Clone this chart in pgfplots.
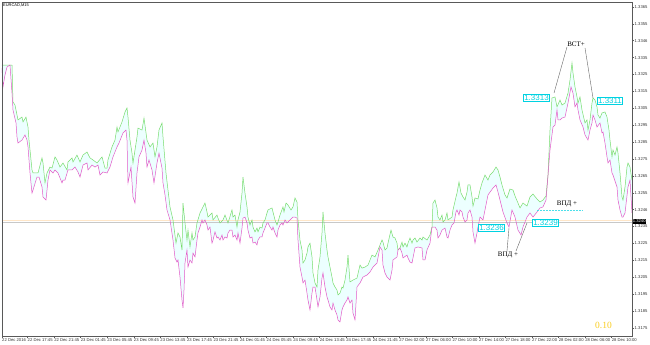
\documentclass[border=0pt]{standalone}
\usepackage{fontspec}
\setmainfont{Liberation Serif}
\newfontfamily\axfont{Liberation Sans}
\usepackage{pgfplots}
\pgfplotsset{compat=1.18}
\usepackage{pgfplotstable}
\definecolor{gline}{RGB}{120,220,110}
\definecolor{pline}{RGB}{225,90,200}
\definecolor{sfill}{RGB}{236,255,255}
\definecolor{lbl}{RGB}{0,210,225}
\definecolor{goldc}{RGB}{250,205,30}
\definecolor{askc}{RGB}{255,230,200}
\definecolor{bidc}{RGB}{200,200,200}

\pgfplotstableread{
x y
2 1.33306
6 1.33306
12 1.33306
13 1.33087
15 1.33069
18 1.32981
22 1.32998
23 1.32969
26 1.32998
28 1.32939
29 1.32862
32 1.32685
33 1.32667
38 1.32667
42 1.32756
43 1.32726
45 1.32608
47 1.32667
50 1.32702
52 1.32696
55 1.32762
57 1.32744
60 1.32702
63 1.32726
67 1.32685
68 1.32732
72 1.32756
73 1.32732
77 1.32773
80 1.32732
83 1.32773
87 1.32791
90 1.32756
93 1.32744
97 1.32726
102 1.32762
105 1.32696
107 1.32696
108 1.32744
112 1.32821
115 1.32862
117 1.32939
118 1.32910
122 1.32969
125 1.33028
127 1.33052
128 1.32998
130 1.32862
132 1.32785
133 1.32726
135 1.32803
137 1.32880
138 1.32933
142 1.32921
144 1.32992
147 1.32862
150 1.32821
153 1.32844
155 1.32762
157 1.32821
159 1.32921
162 1.32963
163 1.32880
166 1.32667
168 1.32566
170 1.32466
173 1.32389
176 1.32252
178 1.32312
180 1.32288
182 1.32211
183 1.32489
185 1.32371
187 1.32270
188 1.32329
190 1.32229
192 1.32312
193 1.32270
195 1.32288
197 1.32371
200 1.32430
203 1.32466
205 1.32489
207 1.32436
208 1.32406
212 1.32430
213 1.32389
217 1.32418
218 1.32400
220 1.32371
223 1.32389
225 1.32418
228 1.32371
232 1.32448
233 1.32406
235 1.32418
237 1.32347
238 1.32389
240 1.32436
242 1.32548
243 1.32643
245 1.32548
247 1.32466
248 1.32406
250 1.32359
252 1.32389
253 1.32347
255 1.32318
257 1.32341
258 1.32318
260 1.32347
262 1.32341
263 1.32371
265 1.32389
267 1.32430
268 1.32448
272 1.32460
273 1.32436
275 1.32389
277 1.32359
278 1.32377
280 1.32418
283 1.32466
284 1.32436
286 1.32489
288 1.32477
291 1.32448
293 1.32466
295 1.32519
297 1.32495
298 1.32389
300 1.32270
302 1.32211
303 1.32134
305 1.32152
307 1.32193
308 1.32229
310 1.32252
312 1.32170
313 1.32075
315 1.32016
317 1.31992
318 1.32092
320 1.32170
322 1.32312
323 1.32436
325 1.32312
327 1.32211
328 1.32170
330 1.32110
332 1.32051
333 1.32016
335 1.31992
337 1.31974
338 1.31945
340 1.31956
342 1.31992
343 1.31986
345 1.32033
347 1.32110
348 1.32181
350 1.32022
353 1.32033
357 1.32045
360 1.32122
362 1.32104
365 1.32110
368 1.32122
372 1.32181
375 1.32170
378 1.32211
382 1.32270
383 1.32258
385 1.32211
387 1.32223
388 1.32252
391 1.32329
393 1.32288
395 1.32282
397 1.32252
398 1.32211
400 1.32223
402 1.32258
403 1.32229
405 1.32252
407 1.32229
408 1.32252
410 1.32282
412 1.32252
413 1.32270
415 1.32282
417 1.32258
420 1.32282
422 1.32270
423 1.32288
427 1.32270
430 1.32300
432 1.32347
433 1.32489
435 1.32507
437 1.32460
438 1.32406
440 1.32389
442 1.32418
443 1.32377
445 1.32389
447 1.32430
448 1.32389
452 1.32406
453 1.32448
456 1.32525
457 1.32548
459 1.32614
461 1.32548
463 1.32525
465 1.32507
467 1.32554
468 1.32596
470 1.32596
472 1.32525
473 1.32471
475 1.32519
478 1.32513
480 1.32566
482 1.32608
485 1.32655
488 1.32625
490 1.32655
493 1.32673
496 1.32702
498 1.32685
500 1.32643
502 1.32596
505 1.32537
507 1.32519
510 1.32572
513 1.32566
515 1.32531
518 1.32489
520 1.32460
523 1.32489
527 1.32471
530 1.32525
533 1.32542
537 1.32513
540 1.32495
543 1.32507
546 1.32531
548 1.32655
550 1.32921
552 1.33111
555 1.33117
557 1.33058
560 1.33099
562 1.33069
565 1.33081
568 1.33140
570 1.33217
572 1.33318
573 1.33259
575 1.33176
577 1.33117
578 1.33081
580 1.33117
582 1.33040
585 1.32963
587 1.32981
588 1.32921
590 1.32981
592 1.33081
593 1.33111
595 1.33099
597 1.33058
598 1.33010
600 1.32992
602 1.33022
605 1.33028
607 1.32998
609 1.32921
610 1.32862
612 1.32762
613 1.32803
615 1.32773
617 1.32821
618 1.32785
620 1.32667
622 1.32525
623 1.32507
625 1.32584
627 1.32702
628 1.32726
630 1.32702
632 1.32625
}\greentab

\pgfplotstableread{
x y
2 1.33288
3 1.33176
5 1.33247
7 1.33294
10 1.33306
12 1.33140
13 1.33040
16 1.32963
17 1.32880
18 1.32844
22 1.32862
25 1.32892
27 1.32862
28 1.32821
30 1.32667
32 1.32548
33 1.32566
37 1.32643
39 1.32643
42 1.32584
43 1.32525
46 1.32507
48 1.32625
50 1.32685
53 1.32667
55 1.32685
58 1.32667
62 1.32608
63 1.32625
65 1.32625
68 1.32685
72 1.32685
75 1.32702
78 1.32673
80 1.32643
83 1.32714
87 1.32726
88 1.32685
92 1.32714
95 1.32702
98 1.32714
100 1.32655
103 1.32673
107 1.32667
110 1.32702
113 1.32762
117 1.32821
119 1.32844
123 1.32904
126 1.32921
127 1.32862
128 1.32608
131 1.32702
133 1.32525
135 1.32489
137 1.32667
139 1.32762
142 1.32803
144 1.32862
146 1.32785
147 1.32702
149 1.32744
152 1.32685
154 1.32608
157 1.32726
159 1.32785
162 1.32696
163 1.32608
165 1.32537
167 1.32448
170 1.32389
173 1.32270
175 1.32164
177 1.32140
178 1.32152
180 1.32051
182 1.31915
183 1.31868
184 1.31974
185 1.32134
187 1.32211
188 1.32110
190 1.32152
192 1.32134
193 1.32193
195 1.32170
197 1.32270
198 1.32312
200 1.32347
202 1.32389
203 1.32371
205 1.32389
207 1.32359
208 1.32329
210 1.32347
212 1.32252
213 1.32270
215 1.32318
217 1.32282
218 1.32288
220 1.32270
222 1.32300
223 1.32270
225 1.32288
227 1.32282
228 1.32312
230 1.32329
232 1.32329
233 1.32288
235 1.32300
237 1.32270
238 1.32312
240 1.32252
242 1.32341
243 1.32400
245 1.32406
247 1.32371
248 1.32329
250 1.32282
252 1.32288
253 1.32252
255 1.32258
257 1.32241
258 1.32270
260 1.32288
262 1.32288
263 1.32312
265 1.32341
267 1.32371
268 1.32371
270 1.32347
272 1.32329
273 1.32347
275 1.32312
277 1.32288
278 1.32329
280 1.32359
282 1.32371
283 1.32359
285 1.32389
287 1.32371
288 1.32377
290 1.32389
292 1.32400
293 1.32406
295 1.32406
297 1.32400
298 1.32270
300 1.32110
302 1.32051
303 1.32016
305 1.32033
307 1.31956
308 1.31915
310 1.31856
312 1.31956
313 1.31992
315 1.31992
317 1.31915
318 1.31874
320 1.31933
322 1.32045
323 1.32075
325 1.31992
327 1.31933
328 1.31915
330 1.31874
332 1.31856
333 1.31897
335 1.31856
337 1.31826
338 1.31797
340 1.31785
342 1.31856
343 1.31874
345 1.31897
347 1.31915
348 1.31933
350 1.31897
352 1.31915
353 1.31838
355 1.31797
357 1.31992
360 1.32016
363 1.32051
367 1.32063
370 1.32081
373 1.32110
377 1.32134
380 1.32229
382 1.32211
383 1.32122
385 1.32075
387 1.32051
388 1.32045
390 1.32033
392 1.32092
393 1.32152
397 1.32170
398 1.32211
400 1.32223
402 1.32193
403 1.32164
407 1.32181
408 1.32164
410 1.32140
412 1.32134
413 1.32164
415 1.32223
418 1.32229
422 1.32223
423 1.32152
425 1.32152
427 1.32211
430 1.32252
432 1.32347
435 1.32347
437 1.32329
438 1.32282
440 1.32300
442 1.32329
445 1.32341
447 1.32288
448 1.32282
450 1.32329
452 1.32359
454 1.32371
456 1.32436
457 1.32448
459 1.32418
460 1.32448
462 1.32436
463 1.32406
465 1.32377
467 1.32389
468 1.32430
470 1.32448
472 1.32406
473 1.32318
475 1.32252
477 1.32312
478 1.32347
480 1.32406
483 1.32389
488 1.32537
493 1.32578
496 1.32596
498 1.32554
500 1.32507
503 1.32436
507 1.32371
509 1.32347
512 1.32448
515 1.32406
518 1.32329
521 1.32300
523 1.32347
527 1.32406
530 1.32430
533 1.32406
537 1.32436
540 1.32460
543 1.32466
546 1.32507
547 1.32578
550 1.32803
553 1.32939
555 1.32951
557 1.33040
558 1.32981
560 1.32981
562 1.32992
565 1.32998
568 1.33081
571 1.33176
573 1.33140
575 1.33058
577 1.33081
578 1.33040
580 1.32981
583 1.32939
585 1.32892
588 1.32862
590 1.32921
592 1.32963
593 1.33010
595 1.32981
597 1.32939
600 1.32963
602 1.32904
603 1.32910
605 1.32844
607 1.32762
608 1.32726
610 1.32744
612 1.32667
613 1.32655
617 1.32584
618 1.32507
620 1.32448
622 1.32406
623 1.32406
625 1.32430
628 1.32584
630 1.32625
632 1.32430
}\pinktab

\begin{document}
\begin{tikzpicture}
\path[use as bounding box] (-2bp,-9bp) rectangle (648bp,336bp);
\begin{axis}[
  at={(0,0)}, anchor=south west,
  width=630bp, height=334bp, scale only axis,
  clip=false, axis on top,
  xmin=2, xmax=632, ymin=1.31702, ymax=1.33679,
  axis line style={black!65, line width=0.4pt},
  tick style={black!65, line width=0.4pt},
  tick align=outside, major tick length=2bp,
  xtick pos=bottom, ytick pos=right, yticklabel pos=right,
  xtick={2,27.55,54.1,80.65,107.2,133.75,160.3,186.85,213.4,239.95,266.5,293.05,319.6,346.15,372.7,399.25,425.8,452.35,478.9,505.45,532,558.55,585.1,611.65},
  xticklabels={22 Dec 2016,22 Dec 17:45,22 Dec 21:45,23 Dec 01:45,23 Dec 05:45,23 Dec 09:45,23 Dec 13:45,23 Dec 17:45,23 Dec 21:45,24 Dec 01:45,24 Dec 05:45,24 Dec 09:45,24 Dec 13:45,24 Dec 17:45,24 Dec 21:45,27 Dec 02:00,27 Dec 06:00,27 Dec 10:00,27 Dec 14:00,27 Dec 18:00,27 Dec 22:00,28 Dec 02:00,28 Dec 06:00,28 Dec 10:00},
  xticklabel style={anchor=north west, inner sep=0pt, yshift=-0.5bp, text=black!80, font=\axfont\fontsize{4.2}{5}\selectfont},
  ytick={1.3175,1.3185,1.3195,1.3205,1.3215,1.3225,1.3235,1.3245,1.3255,1.3265,1.3275,1.3285,1.3295,1.3305,1.3315,1.3325,1.3335,1.3345,1.3355,1.3365},
  yticklabels={1.3175,1.3185,1.3195,1.3205,1.3215,1.3225,1.3235,1.3246,1.3255,1.3265,1.3275,1.3285,1.3295,1.3305,1.3315,1.3325,1.3335,1.3346,1.3355,1.3365},
  yticklabel style={anchor=west, inner sep=0pt, xshift=0.5bp, text=black!80, font=\axfont\fontsize{4.2}{5}\selectfont},
]
\addplot[fill=sfill, draw=none, forget plot] table {\greentab} \closedcycle;
\addplot[fill=white, draw=none, forget plot] table {\pinktab} \closedcycle;
\addplot[bidc, line width=0.5pt, forget plot] coordinates {(2,1.32374) (632,1.32374)};
\addplot[askc, line width=0.6pt, forget plot] coordinates {(2,1.32389) (632,1.32389)};
\addplot[gline, line width=0.5pt] table {\greentab};
\addplot[pline, line width=0.5pt] table {\pinktab};

\node[anchor=north west, inner sep=0pt, xshift=1bp, yshift=-1.5bp, font=\axfont\fontsize{4}{5}\selectfont] at (rel axis cs:0,1) {EURCAD,M15};
\draw[black!60, line width=0.4pt] (axis cs:567,1.33413) -- (axis cs:554,1.33140);
\draw[black!60, line width=0.4pt] (axis cs:585,1.33407) -- (axis cs:593,1.33111);
\node[font=\fontsize{7}{8}\selectfont] at (axis cs:576,1.33431) {ВСТ+};
\node[draw=lbl, text=lbl, fill=white, inner sep=0.8bp, line width=0.5pt, font=\axfont\fontsize{8}{9}\selectfont] at (axis cs:536.5,1.33114) {1.3313};
\node[draw=lbl, text=lbl, fill=white, inner sep=0.8bp, line width=0.5pt, font=\axfont\fontsize{8}{9}\selectfont] at (axis cs:610,1.33093) {1.3311};
\draw[lbl!70, densely dotted, line width=0.5pt] (axis cs:537,1.32448) -- (axis cs:583,1.32448);
\node[font=\fontsize{7}{8}\selectfont] at (axis cs:567,1.32483) {ВПД +};
\draw[black!60, line width=0.4pt] (axis cs:507,1.32205) -- (axis cs:509,1.32341);
\draw[black!60, line width=0.4pt] (axis cs:516,1.32205) -- (axis cs:527,1.32371);
\node[font=\fontsize{7}{8}\selectfont] at (axis cs:508,1.32181) {ВПД +};
\node[draw=lbl, text=lbl, fill=white, inner sep=0.8bp, line width=0.5pt, font=\axfont\fontsize{8}{9}\selectfont] at (axis cs:491.5,1.32344) {1.3236};
\node[draw=lbl, text=lbl, fill=white, inner sep=0.8bp, line width=0.5pt, font=\axfont\fontsize{8}{9}\selectfont] at (axis cs:545.5,1.32374) {1.3239};
\node[text=goldc, font=\fontsize{9.5}{10}\selectfont] at (axis cs:603.5,1.31767) {0.10};
\node[fill=black, text=white, anchor=west, inner sep=0.6bp, font=\axfont\fontsize{4.2}{5}\selectfont] at (axis cs:632,1.32380) {1.3240};
\end{axis}
\end{tikzpicture}
\end{document}
